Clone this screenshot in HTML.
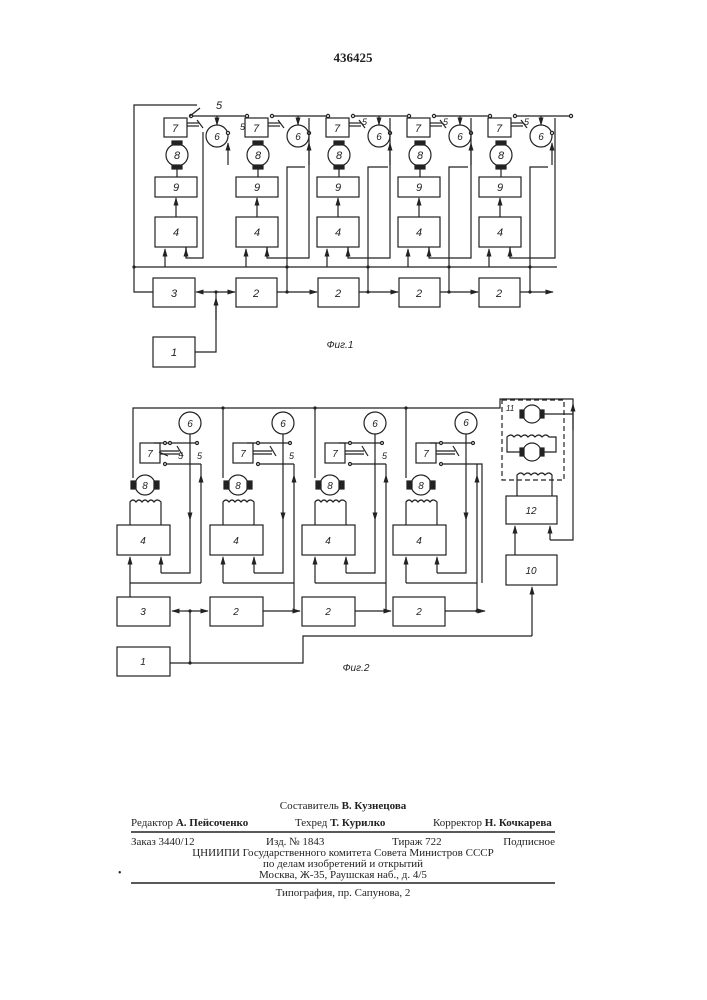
<!DOCTYPE html>
<html><head><meta charset="utf-8"><style>
html,body{margin:0;padding:0;background:#fff;}
svg{display:block}
.t{font-family:"Liberation Serif",serif;fill:#222}
.l{font-family:"Liberation Sans",sans-serif;font-style:italic;fill:#222}
</style></head><body>
<svg width="707" height="1000" viewBox="0 0 707 1000" xmlns="http://www.w3.org/2000/svg">
<defs>
<marker id="a" viewBox="0 0 10 10" refX="9" refY="5" markerWidth="7" markerHeight="7" orient="auto-start-reverse"><path d="M0,2 L10,5 L0,8 z" fill="#222"/></marker>
<g id="s1" fill="none" stroke="#222" stroke-width="1.2">
<rect x="0" y="177" width="42" height="20"/>
<rect x="0" y="217" width="42" height="30"/>
<rect x="9" y="118" width="23" height="19"/>
<circle cx="22" cy="155" r="11"/>
<rect x="17" y="141" width="10" height="4" fill="#222"/>
<rect x="17" y="165" width="10" height="4" fill="#222"/>
<line x1="22" y1="169" x2="22" y2="177"/>
<line x1="21" y1="217" x2="21" y2="198" marker-end="url(#a)"/>
<circle cx="62" cy="136" r="11"/>
<line x1="62" y1="116" x2="62" y2="125" marker-end="url(#a)"/>
<line x1="36" y1="116" x2="92" y2="116"/>
<circle cx="36" cy="116" r="1.6" fill="#fff"/>
<circle cx="92" cy="116" r="1.6" fill="#fff"/>
<line x1="32" y1="123" x2="44" y2="123"/><line x1="32" y1="126" x2="44" y2="126"/>
<line x1="42" y1="120" x2="48" y2="128"/>
<circle cx="73" cy="133" r="1.6" fill="#fff"/>
<line x1="73" y1="165" x2="73" y2="143" marker-end="url(#a)"/>
<path d="M31,257 V247"/><line x1="31" y1="257" x2="31" y2="249" marker-end="url(#a)"/>
<line x1="10" y1="267" x2="10" y2="249" marker-end="url(#a)"/>
</g>
<g id="s2" fill="none" stroke="#222" stroke-width="1.2">
<rect x="0" y="525" width="53" height="30"/>
<path d="M13,525 V502 q3,-4 6,0 q3,-4 6,0 q3,-4 6,0 q3,-4 6,0 q3,-4 7,0 V525"/>
<circle cx="28" cy="485" r="10"/>
<rect x="14" y="481" width="5" height="8" fill="#222"/>
<rect x="37" y="481" width="5" height="8" fill="#222"/>
<rect x="23" y="443" width="20" height="20"/>
<circle cx="73" cy="423" r="11"/>
<line x1="73" y1="434" x2="73" y2="520" marker-end="url(#a)"/>
<path d="M73,520 V573 H44"/><line x1="44" y1="573" x2="44" y2="557" marker-end="url(#a)"/>
<line x1="37" y1="443" x2="80" y2="443"/><line x1="48" y1="464" x2="84" y2="464"/>
<circle cx="48" cy="443" r="1.5" fill="#fff"/><circle cx="80" cy="443" r="1.5" fill="#fff"/>
<circle cx="48" cy="464" r="1.5" fill="#fff"/>
<line x1="43" y1="451" x2="62" y2="451"/><line x1="43" y1="454" x2="62" y2="454"/>
<line x1="60" y1="446" x2="66" y2="456"/>
<line x1="84" y1="583" x2="84" y2="475" marker-end="url(#a)"/><line x1="84" y1="475" x2="84" y2="464"/>
<path d="M13,583 H84"/><line x1="13" y1="583" x2="13" y2="557" marker-end="url(#a)"/>
</g>
</defs>

<text x="353" y="62" class="t" font-size="13" font-weight="bold" text-anchor="middle">436425</text>

<!-- FIG 1 -->
<use href="#s1" x="155"/><use href="#s1" x="236"/><use href="#s1" x="317"/><use href="#s1" x="398"/><use href="#s1" x="479"/>
<g fill="none" stroke="#222" stroke-width="1.2">
<path d="M197,105 H134 V292 H153"/>
<path d="M134,267 H557"/>
<path d="M186,247 V258 H203 V132"/><path d="M200,108 L190,116"/>
<rect x="153" y="278" width="42" height="29"/>
<rect x="236" y="278" width="41" height="29"/><rect x="318" y="278" width="41" height="29"/>
<rect x="399" y="278" width="41" height="29"/><rect x="479" y="278" width="41" height="29"/>
<rect x="153" y="337" width="42" height="30"/>
<line x1="205" y1="292" x2="196" y2="292" marker-end="url(#a)"/><line x1="205" y1="292" x2="235" y2="292" marker-end="url(#a)"/>
<path d="M195,352 H216 V292"/><line x1="216" y1="320" x2="216" y2="298" marker-end="url(#a)"/>
<line x1="277" y1="292" x2="317" y2="292" marker-end="url(#a)"/>
<line x1="359" y1="292" x2="398" y2="292" marker-end="url(#a)"/>
<line x1="440" y1="292" x2="478" y2="292" marker-end="url(#a)"/>
<line x1="520" y1="292" x2="553" y2="292" marker-end="url(#a)"/>
<path d="M287,292 V167 H305"/><path d="M368,292 V167 H388"/><path d="M449,292 V167 H468"/><path d="M530,292 V167 H548"/>
<path d="M267,247 V258 H309 V118"/><path d="M348,247 V258 H390 V118"/><path d="M429,247 V258 H471 V118"/><path d="M510,247 V258 H555 V118"/>
</g>
<text x="216" y="109" class="l" font-size="11">5</text>
<text x="175" y="132" class="l" font-size="11" text-anchor="middle">7</text><text x="256" y="132" class="l" font-size="11" text-anchor="middle">7</text><text x="337" y="132" class="l" font-size="11" text-anchor="middle">7</text><text x="418" y="132" class="l" font-size="11" text-anchor="middle">7</text><text x="499" y="132" class="l" font-size="11" text-anchor="middle">7</text>
<text x="217" y="140" class="l" font-size="10" text-anchor="middle">6</text><text x="298" y="140" class="l" font-size="10" text-anchor="middle">6</text><text x="379" y="140" class="l" font-size="10" text-anchor="middle">6</text><text x="460" y="140" class="l" font-size="10" text-anchor="middle">6</text><text x="541" y="140" class="l" font-size="10" text-anchor="middle">6</text>
<text x="177" y="159" class="l" font-size="11" text-anchor="middle">8</text><text x="258" y="159" class="l" font-size="11" text-anchor="middle">8</text><text x="339" y="159" class="l" font-size="11" text-anchor="middle">8</text><text x="420" y="159" class="l" font-size="11" text-anchor="middle">8</text><text x="501" y="159" class="l" font-size="11" text-anchor="middle">8</text>
<text x="176" y="191" class="l" font-size="11" text-anchor="middle">9</text><text x="257" y="191" class="l" font-size="11" text-anchor="middle">9</text><text x="338" y="191" class="l" font-size="11" text-anchor="middle">9</text><text x="419" y="191" class="l" font-size="11" text-anchor="middle">9</text><text x="500" y="191" class="l" font-size="11" text-anchor="middle">9</text>
<text x="176" y="236" class="l" font-size="11" text-anchor="middle">4</text><text x="257" y="236" class="l" font-size="11" text-anchor="middle">4</text><text x="338" y="236" class="l" font-size="11" text-anchor="middle">4</text><text x="419" y="236" class="l" font-size="11" text-anchor="middle">4</text><text x="500" y="236" class="l" font-size="11" text-anchor="middle">4</text>
<text x="174" y="297" class="l" font-size="11" text-anchor="middle">3</text><text x="256" y="297" class="l" font-size="11" text-anchor="middle">2</text><text x="338" y="297" class="l" font-size="11" text-anchor="middle">2</text><text x="419" y="297" class="l" font-size="11" text-anchor="middle">2</text><text x="499" y="297" class="l" font-size="11" text-anchor="middle">2</text>
<text x="174" y="356" class="l" font-size="11" text-anchor="middle">1</text>
<text x="240" y="130" class="l" font-size="9">5</text><text x="362" y="125" class="l" font-size="9">5</text><text x="443" y="125" class="l" font-size="9">5</text><text x="524" y="125" class="l" font-size="9">5</text>
<text x="340" y="348" class="l" font-size="10" text-anchor="middle">Фиг.1</text>

<!-- FIG 2 -->
<use href="#s2" x="117"/><use href="#s2" x="210"/><use href="#s2" x="302"/><use href="#s2" x="393"/>
<g fill="none" stroke="#222" stroke-width="1.2">
<path d="M133,478 V408 H500 V399 H573 V540 H550"/>
<line x1="550" y1="540" x2="550" y2="526" marker-end="url(#a)"/>
<line x1="573" y1="430" x2="573" y2="404" marker-end="url(#a)"/>
<path d="M223,408 V478"/><path d="M315,408 V478"/><path d="M406,408 V478"/>
<rect x="502" y="400" width="62" height="80" stroke-dasharray="5,3"/>
<circle cx="532" cy="414" r="9"/><rect x="520" y="410" width="4" height="8" fill="#222"/><rect x="540" y="410" width="4" height="8" fill="#222"/>
<path d="M544,414 H573"/>
<circle cx="532" cy="452" r="9"/><rect x="520" y="448" width="4" height="8" fill="#222"/><rect x="540" y="448" width="4" height="8" fill="#222"/>
<path d="M520,452 H507 V437 q4,-4 7,0 q4,-4 7,0 q4,-4 7,0 q4,-4 7,0 q4,-4 7,0 q4,-4 7,0 H556 V452 H544"/>
<path d="M517,496 V475 q4,-4 7,0 q4,-4 7,0 q4,-4 7,0 q4,-4 7,0 q4,-4 7,0 H552 V496"/>
<rect x="506" y="496" width="51" height="28"/>
<rect x="506" y="555" width="51" height="30"/>
<line x1="515" y1="555" x2="515" y2="526" marker-end="url(#a)"/>
<rect x="117" y="597" width="53" height="29"/>
<rect x="210" y="597" width="53" height="29"/><rect x="302" y="597" width="53" height="29"/><rect x="393" y="597" width="52" height="29"/>
<rect x="117" y="647" width="53" height="29"/>
<path d="M130,597 V583"/>
<line x1="185" y1="611" x2="172" y2="611" marker-end="url(#a)"/><line x1="185" y1="611" x2="208" y2="611" marker-end="url(#a)"/>
<path d="M170,663 H303 V636 H532"/><line x1="532" y1="636" x2="532" y2="587" marker-end="url(#a)"/>
<path d="M190,663 V611"/>
<line x1="263" y1="611" x2="300" y2="611" marker-end="url(#a)"/>
<line x1="355" y1="611" x2="391" y2="611" marker-end="url(#a)"/>
<line x1="445" y1="611" x2="485" y2="611" marker-end="url(#a)"/>
<path d="M294,611 V583"/><path d="M386,611 V583"/><path d="M477,611 V583"/>
<path d="M477,464 H482 V583"/>
<path d="M159,452 L168,456"/><circle cx="170" cy="443" r="1.5" fill="#fff"/>
</g>
<g fill="#222">
<circle cx="294" cy="611" r="1.6"/><circle cx="386" cy="611" r="1.6"/><circle cx="477" cy="611" r="1.6"/><circle cx="190" cy="611" r="1.6"/><circle cx="190" cy="663" r="1.6"/>
<circle cx="223" cy="408" r="1.6"/><circle cx="315" cy="408" r="1.6"/><circle cx="406" cy="408" r="1.6"/>
<circle cx="287" cy="292" r="1.6"/><circle cx="368" cy="292" r="1.6"/><circle cx="449" cy="292" r="1.6"/><circle cx="530" cy="292" r="1.6"/><circle cx="216" cy="292" r="1.6"/><circle cx="134" cy="267" r="1.6"/>
<circle cx="287" cy="267" r="1.6"/><circle cx="368" cy="267" r="1.6"/><circle cx="449" cy="267" r="1.6"/><circle cx="530" cy="267" r="1.6"/>
</g>
<text x="190" y="427" class="l" font-size="10" text-anchor="middle">6</text><text x="283" y="427" class="l" font-size="10" text-anchor="middle">6</text><text x="375" y="427" class="l" font-size="10" text-anchor="middle">6</text><text x="466" y="426" class="l" font-size="10" text-anchor="middle">6</text>
<text x="150" y="457" class="l" font-size="10" text-anchor="middle">7</text><text x="243" y="457" class="l" font-size="10" text-anchor="middle">7</text><text x="335" y="457" class="l" font-size="10" text-anchor="middle">7</text><text x="426" y="457" class="l" font-size="10" text-anchor="middle">7</text>
<text x="178" y="459" class="l" font-size="9">5</text><text x="197" y="459" class="l" font-size="9">5</text><text x="289" y="459" class="l" font-size="9">5</text><text x="382" y="459" class="l" font-size="9">5</text>
<text x="145" y="489" class="l" font-size="10" text-anchor="middle">8</text><text x="238" y="489" class="l" font-size="10" text-anchor="middle">8</text><text x="330" y="489" class="l" font-size="10" text-anchor="middle">8</text><text x="421" y="489" class="l" font-size="10" text-anchor="middle">8</text>
<text x="143" y="544" class="l" font-size="10" text-anchor="middle">4</text><text x="236" y="544" class="l" font-size="10" text-anchor="middle">4</text><text x="328" y="544" class="l" font-size="10" text-anchor="middle">4</text><text x="419" y="544" class="l" font-size="10" text-anchor="middle">4</text>
<text x="143" y="615" class="l" font-size="10" text-anchor="middle">3</text><text x="236" y="615" class="l" font-size="10" text-anchor="middle">2</text><text x="328" y="615" class="l" font-size="10" text-anchor="middle">2</text><text x="419" y="615" class="l" font-size="10" text-anchor="middle">2</text>
<text x="143" y="665" class="l" font-size="10" text-anchor="middle">1</text>
<text x="531" y="514" class="l" font-size="10" text-anchor="middle">12</text><text x="531" y="574" class="l" font-size="10" text-anchor="middle">10</text>
<text x="506" y="411" class="l" font-size="8">11</text>
<text x="356" y="671" class="l" font-size="10" text-anchor="middle">Фиг.2</text>

<!-- TEXT -->
<g class="t" font-size="11">
<text x="343" y="809" text-anchor="middle">Составитель <tspan font-weight="bold">В. Кузнецова</tspan></text>
<text x="131" y="826">Редактор <tspan font-weight="bold">А. Пейсоченко</tspan></text>
<text x="295" y="826">Техред <tspan font-weight="bold">Т. Курилко</tspan></text>
<text x="433" y="826">Корректор <tspan font-weight="bold">Н. Кочкарева</tspan></text>
<text x="131" y="845">Заказ 3440/12</text>
<text x="266" y="845">Изд. № 1843</text>
<text x="392" y="845">Тираж 722</text>
<text x="555" y="845" text-anchor="end">Подписное</text>
<text x="343" y="856" text-anchor="middle">ЦНИИПИ Государственного комитета Совета Министров СССР</text>
<text x="343" y="867" text-anchor="middle">по делам изобретений и открытий</text>
<text x="343" y="878" text-anchor="middle">Москва, Ж-35, Раушская наб., д. 4/5</text>
<text x="343" y="896" text-anchor="middle">Типография, пр. Сапунова, 2</text>
</g>
<line x1="131" y1="832" x2="555" y2="832" stroke="#222" stroke-width="1.5"/>
<line x1="131" y1="883" x2="555" y2="883" stroke="#222" stroke-width="1.5"/>
<text x="118" y="876" class="t" font-size="10">•</text>
</svg>
</body></html>
